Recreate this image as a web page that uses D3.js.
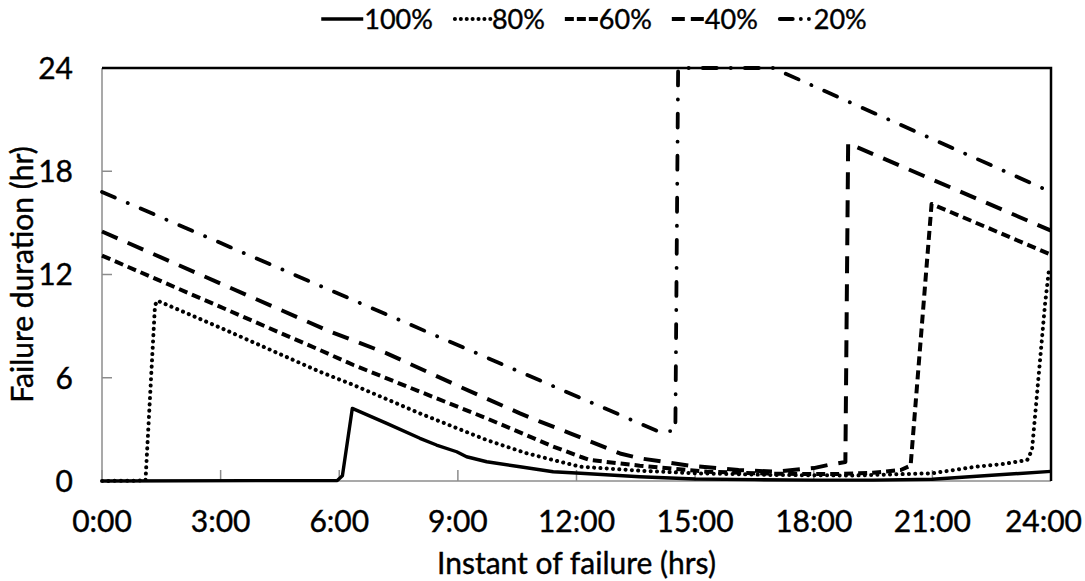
<!DOCTYPE html>
<html>
<head>
<meta charset="utf-8">
<script src="https://cdn.jsdelivr.net/npm/d3@7"></script>
<style>
    body { margin: 0; background: #fff; }
    svg { display: block; font-family: Lato, "Open Sans", sans-serif; }
    .tickLabel { font-size: 30px; fill: #000; stroke: #000; stroke-width: 0.4px; }
    .axisTitle { font-size: 30px; fill: #000; stroke: #000; stroke-width: 0.4px; }
    .legendText { font-size: 27px; fill: #000; stroke: #000; stroke-width: 0.4px; }
</style>
</head>
<body>
<script>
//series data: instant of failure (hrs) and failure duration (hr)
var hours100 = [0, 5.95, 6.08, 6.33, 7.2, 8.04, 8.46, 8.97, 9.22, 9.73, 10.57, 11.41, 12.1, 13.6, 15.0, 16.5, 18.0, 19.5, 21.0, 22.5, 24.0];
var dur100 = [0, 0.03, 0.3, 4.22, 3.35, 2.48, 2.09, 1.7, 1.41, 1.12, 0.83, 0.54, 0.45, 0.25, 0.12, 0.08, 0.05, 0.05, 0.1, 0.33, 0.56];

var hours80 = [0, 1.1, 1.34, 1.4, 3.0, 5.51, 6.36, 8.04, 9.73, 10.74, 11.41, 12.1, 13.6, 15.0, 17.0, 19.0, 21.0, 22.1, 22.8, 23.4, 23.52, 23.85, 23.95];
var dur80 = [0, 0.03, 10.2, 10.48, 8.9, 6.35, 5.58, 3.93, 2.38, 1.61, 1.22, 0.83, 0.6, 0.45, 0.35, 0.32, 0.45, 0.83, 0.99, 1.22, 1.8, 10.3, 12.3];

var hours60 = [0, 5.51, 6.36, 8.04, 9.73, 11.41, 12.1, 12.34, 13.6, 15.3, 17.0, 18.5, 19.5, 20.2, 20.45, 20.98, 24];
var dur60 = [13.1, 7.61, 6.74, 5.19, 3.64, 2.0, 1.41, 1.22, 0.89, 0.54, 0.42, 0.4, 0.48, 0.64, 0.9, 16.1, 13.15];

var hours40 = [0, 5.77, 7.2, 9.05, 10.57, 11.08, 11.84, 13.1, 13.6, 14.87, 16.1, 17.0, 18.0, 18.4, 18.8, 18.87, 24];
var dur40 = [14.5, 8.68, 7.42, 5.48, 3.93, 3.45, 2.77, 1.6, 1.32, 0.89, 0.64, 0.54, 0.75, 0.95, 1.1, 19.62, 14.55];

var hours20 = [0, 14.05, 14.5, 14.57, 16.97, 24];
var dur20 = [16.8, 2.9, 2.9, 24, 24, 16.8];

var seriesNames = ["100%", "80%", "60%", "40%", "20%"];
var xTicks = [0, 3, 6, 9, 12, 15, 18, 21, 24];
var xTickLabels = ["0:00", "3:00", "6:00", "9:00", "12:00", "15:00", "18:00", "21:00", "24:00"];
var yTicks = [0, 6, 12, 18, 24];

//line styles per series (plot dash, legend dash)
var styles = [
    {dash: null, legendDash: null, width: 3.4, cap: "butt", sample: 42},
    {dash: "0.1 6.2", legendDash: "0.1 5.8", width: 4, cap: "round", sample: 38},
    {dash: "9 5", legendDash: "9 3", width: 4, cap: "butt", sample: 33},
    {dash: "17 11", legendDash: "13 6", width: 4, cap: "butt", sample: 32},
    {dash: "14 14 0.1 14", legendDash: "13 8 0.1 8 0.1 40", width: 3.8, cap: "round", sample: 35}
];

window.onload = setChart();

function setChart(){

    var width = 1085,
        height = 581;

    var margin = {left: 102, top: 68, right: 34, bottom: 100};
    var innerWidth = width - margin.left - margin.right,
        innerHeight = height - margin.top - margin.bottom;

    var svg = d3.select("body")
        .append("svg")
        .attr("width", width)
        .attr("height", height);

    var x = d3.scaleLinear()
        .domain([0, 24])
        .range([margin.left, margin.left + innerWidth]);

    var y = d3.scaleLinear()
        .domain([0, 24])
        .range([margin.top + innerHeight, margin.top]);

    //grey left and bottom axis lines with inward ticks
    var axes = svg.append("g").attr("class", "axes");

    axes.append("line")
        .attr("x1", x(0)).attr("x2", x(0))
        .attr("y1", y(0)).attr("y2", y(24))
        .style("stroke", "#8c8c8c").style("stroke-width", 1.5);

    axes.append("line")
        .attr("x1", x(0)).attr("x2", x(24))
        .attr("y1", y(0)).attr("y2", y(0))
        .style("stroke", "#8c8c8c").style("stroke-width", 1.5);

    axes.selectAll(".yTick")
        .data(yTicks)
        .enter()
        .append("line")
        .attr("class", "yTick")
        .attr("x1", x(0)).attr("x2", x(0) + 10)
        .attr("y1", function(d){ return y(d); })
        .attr("y2", function(d){ return y(d); })
        .style("stroke", "#8c8c8c").style("stroke-width", 1.5);

    axes.selectAll(".xTick")
        .data(xTicks)
        .enter()
        .append("line")
        .attr("class", "xTick")
        .attr("x1", function(d){ return x(d); })
        .attr("x2", function(d){ return x(d); })
        .attr("y1", y(0)).attr("y2", y(0) - 11)
        .style("stroke", "#8c8c8c").style("stroke-width", 1.5);

    //tick labels
    svg.selectAll(".yLabel")
        .data(yTicks)
        .enter()
        .append("text")
        .attr("class", "tickLabel yLabel")
        .attr("x", x(0) - 29)
        .attr("y", function(d){ return y(d); })
        .attr("dy", "0.36em")
        .attr("text-anchor", "end")
        .text(function(d){ return d; });

    svg.selectAll(".xLabel")
        .data(xTicks)
        .enter()
        .append("text")
        .attr("class", "tickLabel xLabel")
        .attr("x", function(d){ return x(d); })
        .attr("y", y(0) + 51)
        .attr("text-anchor", "middle")
        .text(function(d, i){ return xTickLabels[i]; })
        .each(function(){
            //keep the last label inside the picture, as the original does
            var box = this.getBBox();
            var over = box.x + box.width - (width - 3);
            if (over > 0) d3.select(this).attr("x", +d3.select(this).attr("x") - over);
        });

    //axis titles
    svg.append("text")
        .attr("class", "axisTitle")
        .attr("x", (x(0) + x(24)) / 2)
        .attr("y", y(0) + 93)
        .attr("text-anchor", "middle")
        .text("Instant of failure (hrs)");

    svg.append("text")
        .attr("class", "axisTitle")
        .attr("transform", "translate(33," + (y(0) + y(24)) / 2 + ") rotate(-90)")
        .attr("text-anchor", "middle")
        .text("Failure duration (hr)");

    //build series from the arrays
    var series = [
        d3.zip(hours100, dur100),
        d3.zip(hours80, dur80),
        d3.zip(hours60, dur60),
        d3.zip(hours40, dur40),
        d3.zip(hours20, dur20)
    ];

    var line = d3.line()
        .x(function(d){ return x(d[0]); })
        .y(function(d){ return y(d[1]); });

    svg.selectAll(".series")
        .data(series)
        .enter()
        .append("path")
        .attr("class", "series")
        .attr("d", line)
        .style("fill", "none")
        .style("stroke", "#000")
        .style("stroke-width", function(d, i){ return styles[i].width; })
        .style("stroke-linecap", function(d, i){ return styles[i].cap; })
        .style("stroke-linejoin", "round")
        .style("stroke-dasharray", function(d, i){ return styles[i].dash; });

    //black top and right frame
    svg.append("path")
        .attr("d", "M" + x(0) + "," + y(24) + "H" + x(24) + "V" + y(0))
        .style("fill", "none")
        .style("stroke", "#000")
        .style("stroke-width", 2.5);

    //legend laid out in one centred row
    var legend = svg.append("g").attr("class", "legend");
    var items = legend.selectAll(".legendItem")
        .data(seriesNames)
        .enter()
        .append("g")
        .attr("class", "legendItem");

    items.append("text")
        .attr("class", "legendText")
        .attr("y", 29)
        .text(function(d){ return d; });

    var gap = 20, cursor = 0, offsets = [];
    items.each(function(d, i){
        var w = this.querySelector("text").getComputedTextLength();
        offsets.push(cursor);
        cursor += styles[i].sample + 1 + w + gap;
    });
    cursor -= gap;
    var start = 594 - cursor / 2;

    items.attr("transform", function(d, i){ return "translate(" + (start + offsets[i]) + ",0)"; });

    items.select("text")
        .attr("x", function(d, i){ return styles[i].sample + 1; });

    items.append("line")
        .attr("x1", function(d, i){ return styles[i].cap == "round" ? 2 : 0; })
        .attr("x2", function(d, i){ return styles[i].sample; })
        .attr("y1", 19).attr("y2", 19)
        .style("stroke", "#000")
        .style("stroke-width", function(d, i){ return styles[i].width; })
        .style("stroke-linecap", function(d, i){ return styles[i].cap; })
        .style("stroke-dasharray", function(d, i){ return styles[i].legendDash; });
};
</script>
</body>
</html>
